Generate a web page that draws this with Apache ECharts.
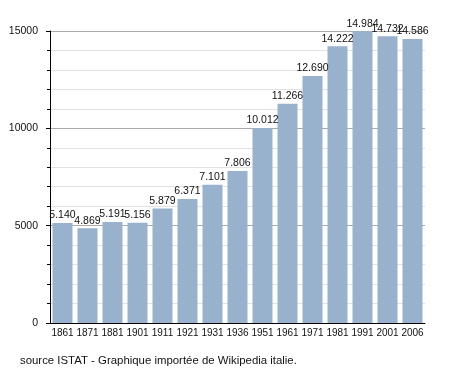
<!DOCTYPE html>
<html><head><meta charset="utf-8">
<script src="https://cdn.jsdelivr.net/npm/echarts@6/dist/echarts.min.js"></script>
<style>html,body{margin:0;padding:0;background:#fff}#c{width:455px;height:373px}</style>
</head><body><div id="c"></div>
<script>
const years = ['1861','1871','1881','1901','1911','1921','1931','1936','1951','1961','1971','1981','1991','2001','2006'];
const population = [5140,4869,5191,5156,5879,6371,7101,7806,10012,11266,12690,14222,14984,14732,14586];
const yTicks = [0,5000,10000,15000];
const sourceText = 'source ISTAT - Graphique importée de Wikipedia italie.';
const font = '"Liberation Sans", Arial, sans-serif';
function fmt(v){ const s=String(v); return s.length>3 ? s.slice(0,-3)+'.'+s.slice(-3) : s; }
const chart = echarts.init(document.getElementById('c'), null, {renderer:'canvas'});
chart.setOption({
  animation:false,
  backgroundColor:'#fff',
  textStyle:{fontFamily:font},
  grid:{left:50,right:30,top:31,bottom:50,containLabel:false},
  graphic:[{type:'text',left:20,top:355,style:{text:sourceText,font:'11.4px '+font,fill:'#111'}}],
  xAxis:{type:'category',data:years,
    axisLine:{lineStyle:{color:'#000',width:1}},axisTick:{show:false},
    axisLabel:{color:'#111',fontSize:10,fontFamily:font,margin:5,interval:0}},
  yAxis:{type:'value',min:yTicks[0],max:yTicks[yTicks.length-1],interval:5000,
    axisLine:{show:true,lineStyle:{color:'#000',width:1}},
    axisTick:{show:true,inside:false,length:4,lineStyle:{color:'#000'}},
    minorTick:{show:true,splitNumber:5,length:3,lineStyle:{color:'#000'}},
    splitLine:{show:true,lineStyle:{color:'#aaa',width:1}},
    minorSplitLine:{show:true,lineStyle:{color:'#e2e2e2',width:1}},
    axisLabel:{color:'#111',fontSize:10.5,fontFamily:font,margin:12,formatter:v=>String(v)}},
  series:[{type:'bar',data:population,barCategoryGap:'20%',
    itemStyle:{color:'#98b1cc'},
    label:{show:true,position:'top',distance:2,color:'#111',fontSize:10.5,fontFamily:font,
      formatter:p=>fmt(p.value)}}]
});
</script></body></html>
